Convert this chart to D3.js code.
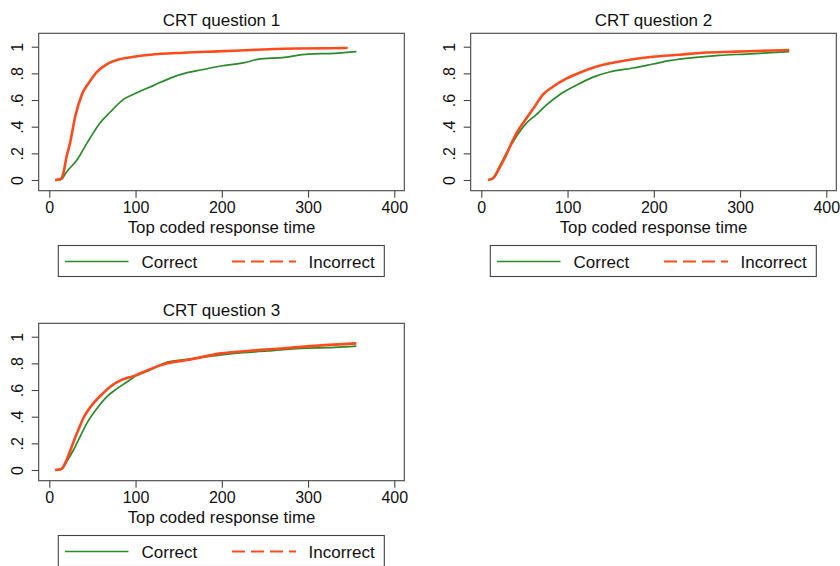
<!DOCTYPE html>
<html><head><meta charset="utf-8">
<script src="https://cdn.jsdelivr.net/npm/d3@7/dist/d3.min.js"></script>
<style>
body{margin:0;background:#fff}
svg{display:block;font-family:"Liberation Sans",Arial,sans-serif}
</style>
</head><body>
<svg id="chart" width="840" height="566"></svg>
<script>
// ---------- data ----------
const panelTitles = ["CRT question 1", "CRT question 2", "CRT question 3"];
const seriesNames = ["Correct", "Incorrect"];
const xAxisTitle = "Top coded response time";
const xTicks = [0, 100, 200, 300, 400];
const yTicks = [0, 0.2, 0.4, 0.6, 0.8, 1];
const yTickLabels = ["0", ".2", ".4", ".6", ".8", "1"];

// Q1
const q1CorrectX = [12, 14, 20, 32, 43.5, 59, 70.7, 86, 100, 121, 142.5, 160, 175.5, 199, 226, 241.5, 272.6, 300, 331, 356];
const q1CorrectY = [0, 0.005, 0.06, 0.15, 0.275, 0.43, 0.51, 0.605, 0.65, 0.71, 0.77, 0.805, 0.825, 0.855, 0.88, 0.905, 0.92, 0.945, 0.95, 0.963];
const q1IncorrectX = [6.6, 12.4, 16.3, 20, 24, 30, 37.7, 45.4, 55, 67, 78.4, 98, 117, 156, 195, 234, 272.6, 346];
const q1IncorrectY = [0, 0.005, 0.05, 0.175, 0.275, 0.475, 0.64, 0.725, 0.81, 0.87, 0.9, 0.925, 0.94, 0.955, 0.965, 0.975, 0.985, 0.99];

// Q2
const q2CorrectX = [8, 13.5, 21, 29, 40.5, 52, 63.7, 75, 90.7, 110, 129, 148.6, 175.7, 199, 218, 249, 276, 307, 357];
const q2CorrectY = [0, 0.013, 0.1, 0.2, 0.325, 0.425, 0.49, 0.56, 0.64, 0.71, 0.77, 0.81, 0.84, 0.87, 0.895, 0.92, 0.935, 0.945, 0.963];
const q2IncorrectX = [7.7, 13.5, 21, 29, 36.7, 44.4, 52, 61.8, 71.4, 83, 98.5, 114, 133, 152.5, 179.5, 199, 230, 257, 295.4, 326, 357];
const q2IncorrectY = [0, 0.013, 0.09, 0.19, 0.3, 0.39, 0.46, 0.55, 0.64, 0.7, 0.76, 0.805, 0.85, 0.88, 0.91, 0.925, 0.94, 0.955, 0.963, 0.97, 0.975];

// Q3
const q3CorrectX = [12, 15, 20, 28, 35.7, 43.5, 55, 66.8, 78.4, 90, 100, 117, 136.7, 160, 183, 214, 253, 292, 331, 356];
const q3CorrectY = [0, 0.008, 0.06, 0.15, 0.25, 0.35, 0.46, 0.55, 0.61, 0.66, 0.705, 0.75, 0.81, 0.83, 0.85, 0.875, 0.893, 0.913, 0.92, 0.93];
const q3IncorrectX = [6.6, 14, 20, 26, 32, 39.6, 51, 59, 70.7, 82, 100, 117, 136.7, 160, 199, 230, 272.6, 311.5, 356];
const q3IncorrectY = [0, 0.008, 0.075, 0.175, 0.275, 0.39, 0.5, 0.555, 0.625, 0.67, 0.71, 0.757, 0.8, 0.825, 0.875, 0.893, 0.913, 0.933, 0.95];

const panelSeries = [
  [[q1CorrectX, q1CorrectY], [q1IncorrectX, q1IncorrectY]],
  [[q2CorrectX, q2CorrectY], [q2IncorrectX, q2IncorrectY]],
  [[q3CorrectX, q3CorrectY], [q3IncorrectX, q3IncorrectY]]
];

// ---------- layout / style ----------
const panelOffsets = [[0, 0], [432, 0], [0, 290]];
const box = {left: 38.7, right: 404.3, top: 33.3, bottom: 190.7};
const xRange = [49.3, 394.3];
const yRange = [180, 46.7];
const colors = ["#2a8a2a", "#ff4a1c"];
const widths = [1.7, 2.6];
const dashes = [null, "13,6"];
const font = '"Liberation Sans", Arial, sans-serif';

const svg = d3.select("#chart");
svg.append("rect").attr("width", 840).attr("height", 566).attr("fill", "#fff");

panelSeries.forEach((series, pi) => {
  const [ox, oy] = panelOffsets[pi];
  const g = svg.append("g").attr("transform", `translate(${ox},${oy})`);
  const x = d3.scaleLinear().domain([0, 400]).range(xRange);
  const y = d3.scaleLinear().domain([0, 1]).range(yRange);

  // plot box
  g.append("rect")
    .attr("x", box.left).attr("y", box.top)
    .attr("width", box.right - box.left).attr("height", box.bottom - box.top)
    .attr("fill", "#fff").attr("stroke", "#444").attr("stroke-width", 1.1);

  // title
  g.append("text")
    .attr("x", (box.left + box.right) / 2).attr("y", 26)
    .attr("text-anchor", "middle").attr("font-size", 17).attr("fill", "#111")
    .style("font-family", font)
    .text(panelTitles[pi]);

  // x axis
  const xa = g.append("g").attr("transform", `translate(0,${box.bottom})`)
    .call(d3.axisBottom(x).tickValues(xTicks).tickSize(7).tickPadding(4).tickFormat(d3.format("d")));
  xa.select(".domain").remove();
  xa.selectAll("line").attr("stroke", "#444").attr("stroke-width", 1.1);
  xa.selectAll("text").attr("font-size", 16).attr("fill", "#111").style("font-family", font);

  // y axis
  const ya = g.append("g").attr("transform", `translate(${box.left},0)`)
    .call(d3.axisLeft(y).tickValues(yTicks).tickSize(7).tickFormat((d, i) => yTickLabels[i]));
  ya.select(".domain").remove();
  ya.selectAll("line").attr("stroke", "#444").attr("stroke-width", 1.1);
  ya.selectAll("text")
    .attr("x", null).attr("dy", null)
    .attr("transform", "translate(-15.5,0) rotate(-90)")
    .attr("text-anchor", "middle")
    .attr("font-size", 16).attr("fill", "#111").style("font-family", font);

  // x axis title
  g.append("text")
    .attr("x", (box.left + box.right) / 2).attr("y", 233)
    .attr("text-anchor", "middle").attr("font-size", 16.8).attr("fill", "#111")
    .style("font-family", font)
    .text(xAxisTitle);

  // lines
  const line = d3.line().x(d => x(d[0])).y(d => y(d[1])).curve(d3.curveMonotoneX);
  series.forEach(([xs, ys], si) => {
    const pts = xs.map((v, i) => [v, ys[i]]);
    g.append("path").datum(pts)
      .attr("d", line)
      .attr("fill", "none")
      .attr("stroke", colors[si])
      .attr("stroke-width", widths[si])
      .attr("stroke-linejoin", "round");
  });

  // legend
  const lg = g.append("g");
  lg.append("rect").attr("x", 58.3).attr("y", 245.5).attr("width", 326).attr("height", 31)
    .attr("fill", "#fff").attr("stroke", "#444").attr("stroke-width", 1.1);
  const legendItems = [
    {x1: 65, x2: 128.5, tx: 141.5},
    {x1: 232, x2: 296, tx: 308.5}
  ];
  seriesNames.forEach((name, si) => {
    const it = legendItems[si];
    lg.append("line").attr("x1", it.x1).attr("x2", it.x2).attr("y1", 261.5).attr("y2", 261.5)
      .attr("stroke", colors[si]).attr("stroke-width", si ? 2 : 1.7)
      .attr("stroke-dasharray", dashes[si]);
    lg.append("text").attr("x", it.tx).attr("y", 268)
      .attr("font-size", 17).attr("fill", "#111").style("font-family", font)
      .text(name);
  });
});
</script>
</body></html>
